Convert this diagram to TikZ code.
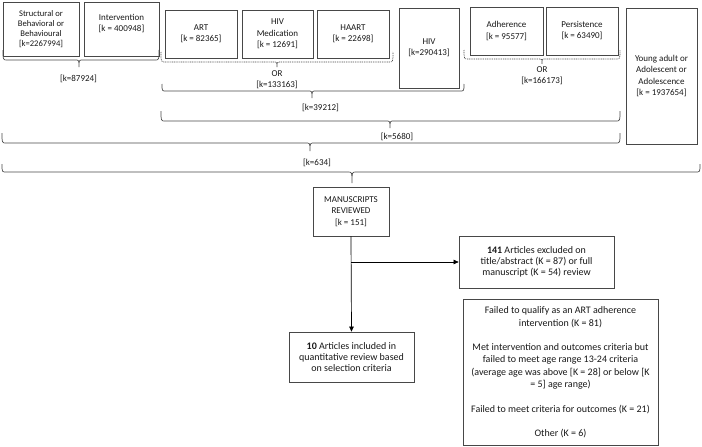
\documentclass[tikz,border=0pt]{standalone}
\usepackage{fontspec}
\setmainfont{Carlito}
\usetikzlibrary{arrows.meta}
\newcommand\fntTop{\fontsize{9}{11.3}\selectfont}
\newcommand\fntStr{\fontsize{8.6}{9.8}\selectfont}
\newcommand\fntLow{\fontsize{10}{11.3}\selectfont}
\newcommand\fntFail{\fontsize{10}{12.3}\selectfont}
\newcommand\drawbrace[7]{\draw[#7] (#1,#4-#5) .. controls (#1,#4) .. (#1+4,#4) -- (#3-4,#4) .. controls (#3,#4) .. (#3,#4+#6) .. controls (#3,#4) .. (#3+4,#4) -- (#2-4,#4) .. controls (#2,#4) .. (#2,#4-#5);}
\begin{document}
\begin{tikzpicture}[x=1pt,y=-1pt,
  box/.style={draw=black!72, line width=0.75pt, inner sep=0pt, align=center, font=\fntTop, text=black!90},
  lbl/.style={inner sep=0pt, align=center, font=\fntTop, text=black!90},
  solidbrace/.style={draw=black!70, line width=0.7pt},
  dotbrace/.style={draw=black!70, line width=0.7pt, dash pattern=on 1pt off 0.8pt},
  arr/.style={draw=black, line width=0.7pt, -{Triangle[length=5pt,width=4.5pt]}}]
\useasboundingbox (0,0) rectangle (702,447);
\fill[white] (0,0) rectangle (702,447);
% top boxes
\node[box, font=\fntStr, minimum width=76, minimum height=54] (str) at (41,29) {Structural or\\Behavioral or\\Behavioural\\{}[k=2267994]};
\node[box, minimum width=75, minimum height=54] (int) at (121.5,29) {};
\node[lbl] (intT) at (121.5,23.5) {Intervention\\{}[k = 400948]};
\node[box, minimum width=72, minimum height=48] (art) at (201,34) {ART\\{}[k = 82365]};
\node[box, minimum width=71, minimum height=48] (med) at (277.5,34) {HIV\\Medication\\{}[k = 12691]};
\node[box, minimum width=72, minimum height=48] (haart) at (353,34) {HAART\\{}[k = 22698]};
\node[box, minimum width=60, minimum height=80] (hiv) at (429,48) {HIV\\{}[k=290413]};
\node[box, minimum width=73, minimum height=48] (adh) at (506.5,31) {Adherence\\{}[k = 95577]};
\node[box, minimum width=72, minimum height=48] (per) at (582,31) {};
\node[lbl] (perT) at (582,30.5) {Persistence\\{}[k = 63490]};
\node[box, minimum width=71, minimum height=136] (ya) at (661.5,76) {Young adult or\\Adolescent or\\Adolescence\\{}[k = 1937654]};
% braces
\drawbrace{3}{159}{79}{60}{10}{7}{solidbrace}
\node[lbl] (k1) at (78.5,79) {[k=87924]};
\drawbrace{161}{393}{277}{62}{10}{5}{dotbrace}
\node[lbl] (or1) at (277,79.5) {OR\\{}[k=133163]};
\drawbrace{464}{620}{542}{59}{9}{5}{dotbrace}
\node[lbl] (or2) at (542,76) {OR\\{}[k=166173]};
\drawbrace{162}{464}{312}{91}{7}{7}{solidbrace}
\node[lbl] (k2) at (320.5,108) {[k=39212]};
\drawbrace{161}{620}{390}{121}{10}{7}{solidbrace}
\node[lbl] (k3) at (397,137) {[k=5680]};
\drawbrace{2}{620}{310}{143}{10}{8}{solidbrace}
\node[lbl] (k4) at (317,163) {[k=634]};
\drawbrace{2}{700}{352}{172}{8}{11}{solidbrace}
% lower part
\node[box, font=\fntTop, minimum width=76, minimum height=49] (mr) at (351,211.5) {MANUSCRIPTS\\REVIEWED\\{}[k = 151]};
\node[box, font=\fntLow, minimum width=155, minimum height=52] (ex) at (536.5,262) {\textbf{141} Articles excluded on\\title/abstract (K = 87) or full\\manuscript (K = 54) review};
\node[box, font=\fntLow, minimum width=125, minimum height=50, text depth=0pt] (ten) at (351.5,357) {\textbf{10} Articles included in\\quantitative review based\\on selection criteria};
\node[box, font=\fntFail, minimum width=195, minimum height=146] (fail) at (560.5,372.5) {Failed to qualify as an ART adherence\\intervention (K = 81)\\[12.3pt]Met intervention and outcomes criteria but\\failed to meet age range 13-24 criteria\\(average age was above [K = 28] or below [K\\= 5] age range)\\[12.3pt]Failed to meet criteria for outcomes (K = 21)\\[12.3pt]Other (K = 6)};
\draw[arr] (mr.south) -- (ten.north);
\draw[arr] (mr.south |- ex.west) -- (ex.west);
\end{tikzpicture}
\end{document}
